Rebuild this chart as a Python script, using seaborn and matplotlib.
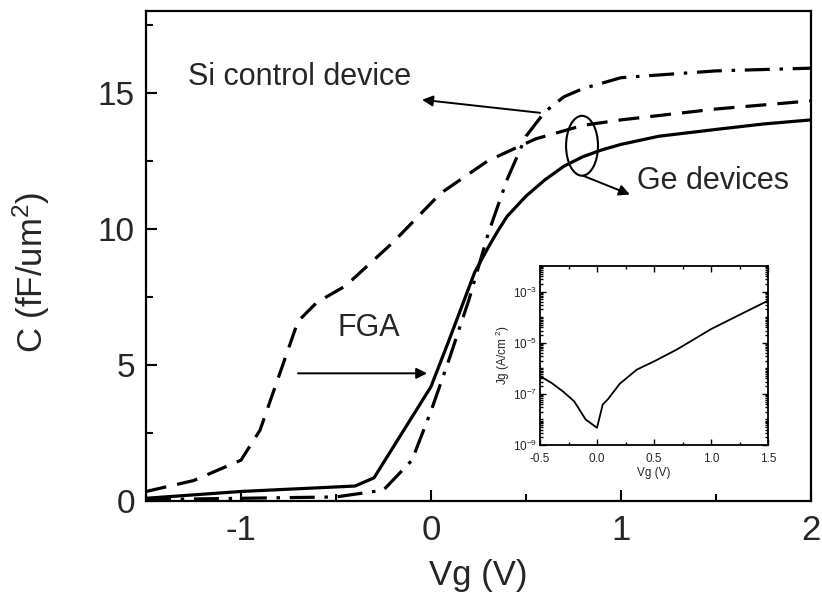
import numpy as np
import matplotlib
matplotlib.use("Agg")
import matplotlib.pyplot as plt
import seaborn as sns
from matplotlib.patches import Ellipse
from matplotlib.ticker import FixedLocator, MultipleLocator, LogLocator, NullFormatter

# C-V curves (gate voltage in V, capacitance in fF/um^2)
vg_fga = [-1.5, -1.0, -0.4, -0.3, 0.0, 0.1, 0.23, 0.3, 0.35, 0.4, 0.5, 0.6, 0.7, 0.8, 0.9, 1.0, 1.2, 1.5, 1.75, 2.0]
c_fga = [0.1, 0.35, 0.55, 0.85, 4.2, 6.0, 8.4, 9.3, 9.9, 10.45, 11.2, 11.8, 12.3, 12.65, 12.9, 13.1, 13.4, 13.65, 13.85, 14.0]

vg_ge = [-1.5, -1.25, -1.0, -0.9, -0.8, -0.7, -0.6, -0.45, -0.2, 0.05, 0.3, 0.55, 0.8, 1.0, 1.5, 2.0]
c_ge = [0.35, 0.75, 1.5, 2.6, 4.6, 6.6, 7.3, 7.9, 9.5, 11.3, 12.5, 13.3, 13.8, 14.0, 14.4, 14.7]

vg_si = [-1.5, -1.0, -0.5, -0.25, -0.1, 0.0, 0.1, 0.2, 0.3, 0.4, 0.5, 0.6, 0.7, 0.8, 1.0, 1.5, 2.0]
c_si = [0.05, 0.1, 0.15, 0.4, 1.5, 3.3, 5.3, 7.4, 9.8, 11.8, 13.4, 14.3, 14.85, 15.15, 15.55, 15.8, 15.9]

# Gate leakage (inset)
vg_leak = [-0.5, -0.4, -0.3, -0.2, -0.1, 0.0, 0.05, 0.1, 0.2, 0.35, 0.5, 0.7, 1.0, 1.25, 1.5]
jg_leak = [4.9e-7, 2.7e-7, 1.26e-7, 5.1e-8, 1.0e-8, 4.7e-9, 3.8e-8, 6.5e-8, 2.5e-7, 8.9e-7,
           1.86e-6, 5.4e-6, 3.4e-5, 1.23e-4, 4.4e-4]

x_ticks = [-1, 0, 1, 2]
x_ticklabels = ["-1", "0", "1", "2"]
y_ticks = [0, 5, 10, 15]
y_ticklabels = ["0", "5", "10", "15"]
inset_x_ticks = [-0.5, 0.0, 0.5, 1.0, 1.5]
inset_x_ticklabels = ["-0.5", "0.0", "0.5", "1.0", "1.5"]
inset_y_ticks = [1e-9, 1e-7, 1e-5, 1e-3]

sns.set_theme(style="ticks")
plt.rcParams["font.family"] = ["Liberation Sans", "DejaVu Sans"]
plt.rcParams["axes.unicode_minus"] = False
plt.rcParams["lines.scale_dashes"] = False
plt.rcParams["mathtext.default"] = "regular"

fig = plt.figure(figsize=(8.22, 5.98), dpi=100)
ax = fig.add_axes([0.1776, 0.1622, 0.809, 0.8194])

lw = 2.3
sns.lineplot(x=vg_fga, y=c_fga, ax=ax, color="black", lw=lw, linestyle="-")
sns.lineplot(x=vg_ge, y=c_ge, ax=ax, color="black", lw=lw, linestyle=(0, (15, 8)))
sns.lineplot(x=vg_si, y=c_si, ax=ax, color="black", lw=lw, linestyle=(0, (18, 7, 2.5, 7)))

ax.set_xlim(-1.5, 2)
ax.set_ylim(0, 18)
ax.set_xticks(x_ticks)
ax.set_xticklabels(x_ticklabels)
ax.set_yticks(y_ticks)
ax.set_yticklabels(y_ticklabels)
ax.xaxis.set_minor_locator(MultipleLocator(0.5))
ax.yaxis.set_minor_locator(MultipleLocator(2.5))
ax.tick_params(axis="both", which="major", direction="in", length=8, width=1.5, color="black")
ax.tick_params(axis="both", which="minor", direction="in", length=5, width=1.5, color="black")
ax.tick_params(axis="x", which="major", labelsize=25, pad=9)
ax.tick_params(axis="y", which="major", labelsize=24, pad=8)
for s in ax.spines.values():
    s.set_visible(True)
    s.set_linewidth(1.6)
    s.set_color("black")

ax.set_xlabel("Vg (V)", fontsize=25, labelpad=9)
ax.set_ylabel("C (fF/um$^2$)", fontsize=25)
ax.yaxis.set_label_coords(-0.141, 0.467)

# Annotations
arrow_kw = dict(arrowstyle="-|>", color="black", lw=1.4, mutation_scale=16, shrinkA=0, shrinkB=0)
ax.text(-1.279, 15.58, "Si control device", fontsize=22, va="center", ha="left")
ax.annotate("", xy=(-0.047, 14.74), xytext=(0.574, 14.26), arrowprops=arrow_kw)
ax.text(-0.49, 6.34, "FGA", fontsize=22, va="center", ha="left")
ax.annotate("", xy=(-0.02, 4.69), xytext=(-0.70, 4.69), arrowprops=arrow_kw)
ax.add_patch(Ellipse((0.795, 13.05), width=0.168, height=2.2, fill=False, lw=1.5, color="black"))
ax.text(1.084, 11.77, "Ge devices", fontsize=22, va="center", ha="left")
ax.annotate("", xy=(1.047, 11.26), xytext=(0.80, 11.95), arrowprops=arrow_kw)

# Inset: gate leakage current density
ins = fig.add_axes([540 / 822, 1 - 445 / 598, 228 / 822, 179 / 598])
sns.lineplot(x=vg_leak, y=jg_leak, ax=ins, color="black", lw=1.3)
ins.set_yscale("log")
ins.set_xlim(-0.5, 1.5)
ins.set_ylim(1e-9, 1e-2)
ins.yaxis.set_major_locator(FixedLocator(inset_y_ticks))
ins.yaxis.set_minor_locator(LogLocator(base=10, subs=np.arange(1, 10), numticks=30))
ins.yaxis.set_minor_formatter(NullFormatter())
ins.set_xticks(inset_x_ticks)
ins.set_xticklabels(inset_x_ticklabels)
ins.xaxis.set_minor_locator(MultipleLocator(0.25))
ins.tick_params(axis="both", which="both", direction="in", top=True, right=True,
                labelsize=8.5, width=1.0, color="black")
ins.tick_params(axis="x", which="major", pad=5.5)
ins.tick_params(axis="y", which="major", pad=2)
ins.tick_params(axis="both", which="major", length=4)
ins.tick_params(axis="both", which="minor", length=2)
for s in ins.spines.values():
    s.set_visible(True)
    s.set_linewidth(1.3)
    s.set_color("black")
ins.set_xlabel("Vg (V)", fontsize=8.5, labelpad=2)
ins.set_ylabel("Jg (A/cm $^2$)", fontsize=8.5, labelpad=1)

fig.savefig("out.png", dpi=100)
